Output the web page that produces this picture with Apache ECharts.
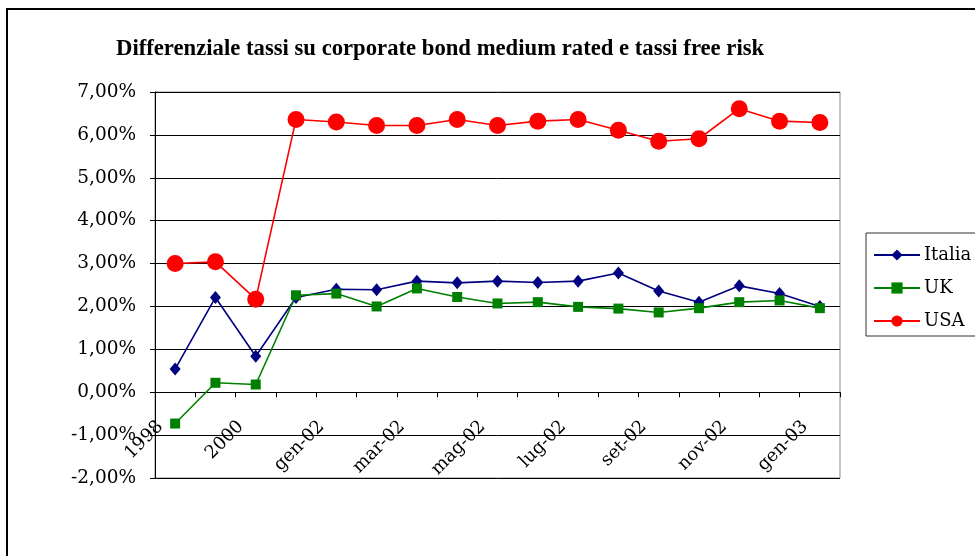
<!DOCTYPE html>
<html>
<head>
<meta charset="utf-8">
<script src="https://cdn.jsdelivr.net/npm/echarts@6/dist/echarts.min.js"></script>
<style>
  html, body { margin: 0; padding: 0; background: #fff; }
  #chart { width: 975px; height: 556px; }
</style>
</head>
<body>
<div id="chart"></div>
<script>
// Periods on the category axis
const categories = ['1998', '1999', '2000', '2001', 'gen-02', 'feb-02', 'mar-02', 'apr-02',
  'mag-02', 'giu-02', 'lug-02', 'ago-02', 'set-02', 'ott-02', 'nov-02', 'dic-02', 'gen-03'];

// Spread over risk-free rates, in percent
const italia = [0.54, 2.21, 0.84, 2.21, 2.40, 2.39, 2.59, 2.55, 2.59, 2.56, 2.59, 2.78, 2.36, 2.10, 2.48, 2.30, 2.00];
const uk     = [-0.73, 0.22, 0.18, 2.26, 2.30, 2.00, 2.42, 2.22, 2.07, 2.10, 1.99, 1.95, 1.86, 1.96, 2.10, 2.14, 1.96];
const usa    = [3.00, 3.04, 2.17, 6.36, 6.30, 6.22, 6.22, 6.36, 6.22, 6.32, 6.36, 6.11, 5.85, 5.91, 6.61, 6.32, 6.29];

const seriesNames = ['Italia', 'UK', 'USA'];
const titleText = 'Differenziale tassi su corporate bond medium rated e tassi free risk';

const serif = 'DejaVu Serif';
const fmtPct = v => v.toFixed(2).replace('.', ',') + '%';

const chart = echarts.init(document.getElementById('chart'), null, { renderer: 'canvas' });

chart.setOption({
  animation: false,
  backgroundColor: '#fff',
  graphic: [{
    type: 'rect',
    shape: { x: 7, y: 9, width: 1100, height: 700 },
    style: { fill: 'none', stroke: '#000', lineWidth: 2 },
    z: -1
  }],
  title: {
    text: titleText,
    left: 111,
    top: 33,
    textStyle: { fontFamily: 'Liberation Serif', fontWeight: 'bold', fontSize: 22.7, color: '#000' }
  },
  legend: {
    orient: 'vertical',
    left: 866,
    top: 233,
    padding: [13, 40, 6, 7],
    itemGap: 15,
    itemWidth: 46,
    itemHeight: 14,
    borderColor: '#333',
    borderWidth: 1,
    backgroundColor: '#fff',
    data: seriesNames,
    textStyle: { fontFamily: serif, fontSize: 18, color: '#000', padding: [0, 0, 0, -1] }
  },
  grid: {
    left: 155,
    right: 135,
    top: 92,
    bottom: 78,
    show: true,
    borderColor: '#888',
    borderWidth: 1,
    containLabel: false
  },
  xAxis: {
    type: 'category',
    data: categories,
    boundaryGap: true,
    axisLine: { onZero: true, lineStyle: { color: '#000', width: 1 } },
    axisTick: { show: true, interval: 0, length: 5, lineStyle: { color: '#000' } },
    axisLabel: {
      interval: 1,
      rotate: 45,
      margin: -69,
      padding: [0, 21, 0, 0],
      fontFamily: serif,
      fontSize: 18,
      color: '#000'
    },
    splitLine: { show: false }
  },
  yAxis: {
    type: 'value',
    min: -2,
    max: 7,
    interval: 1,
    axisLine: { show: true, lineStyle: { color: '#000', width: 1 } },
    axisTick: { show: true, length: 5, lineStyle: { color: '#000' } },
    axisLabel: {
      formatter: fmtPct,
      margin: 19,
      fontFamily: serif,
      fontSize: 18.5,
      color: '#000'
    },
    splitLine: { show: true, lineStyle: { color: '#000', width: 1 } }
  },
  series: [
    {
      name: seriesNames[0],
      type: 'line',
      data: italia,
      symbol: 'diamond',
      symbolSize: [11, 13],
      itemStyle: { color: '#000080' },
      lineStyle: { color: '#000080', width: 1.6 }
    },
    {
      name: seriesNames[1],
      type: 'line',
      data: uk,
      symbol: 'rect',
      symbolSize: 10,
      itemStyle: { color: '#008000' },
      lineStyle: { color: '#008000', width: 1.6 }
    },
    {
      name: seriesNames[2],
      type: 'line',
      data: usa,
      symbol: 'circle',
      symbolSize: 17,
      itemStyle: { color: '#ff0000' },
      lineStyle: { color: '#ff0000', width: 1.6 }
    }
  ]
});
</script>
</body>
</html>
